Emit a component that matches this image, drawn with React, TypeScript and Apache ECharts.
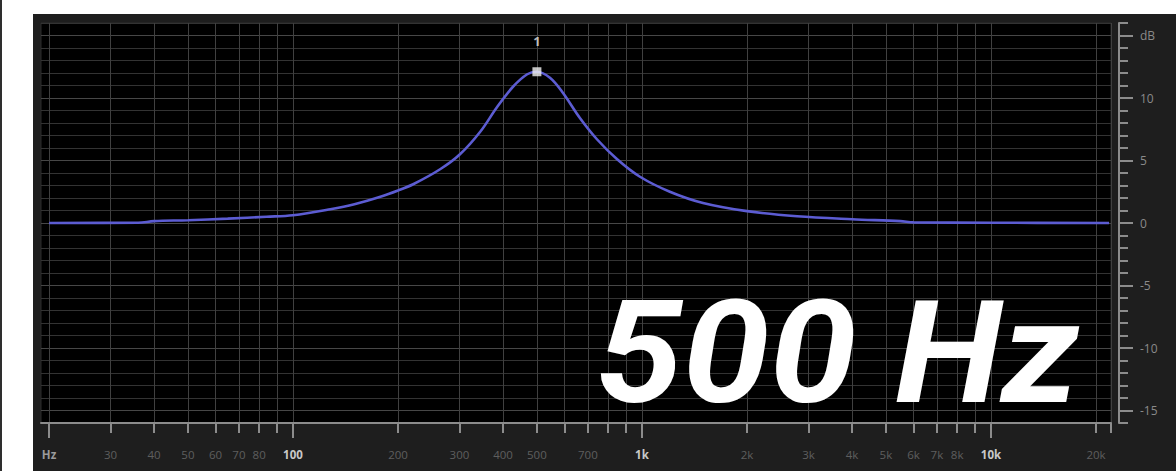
import React, { useEffect, useRef } from "react";
import * as echarts from "echarts";

// Frequency ticks (Hz) on the bottom axis
const tickFreqs = [20, 30, 40, 50, 60, 70, 80, 90, 100, 200, 300, 400, 500, 600, 700, 800, 900, 1000, 2000, 3000, 4000, 5000, 6000, 7000, 8000, 9000, 10000, 20000];
const majorFreqs = [20, 100, 1000, 10000];
const dimLabelFreqs = [30, 40, 50, 60, 70, 80, 200, 300, 400, 500, 700, 2000, 3000, 4000, 5000, 6000, 7000, 8000, 20000];
// dB labels on the right axis
const dbLabelValues = [-15, -10, -5, 0, 5, 10, 15];

// EQ response curve
const curveFreqs = [20, 36, 40, 50, 65, 84, 100, 128, 150, 178, 200, 221, 264, 301, 344, 385, 427, 469, 500, 546, 594, 664, 743, 849, 987, 1202, 1496, 2000, 2782, 4000, 5500, 6000, 10000, 21800];
const curveGains = [0, 0.02, 0.15, 0.22, 0.35, 0.5, 0.62, 1.1, 1.5, 2.1, 2.6, 3.1, 4.3, 5.5, 7.3, 9.3, 10.9, 11.9, 12.1, 11.6, 10.4, 8.4, 6.7, 5.1, 3.7, 2.5, 1.6, 0.95, 0.54, 0.3, 0.15, 0.05, 0.02, 0];

// Band handle
const peakFreqs = [500];
const peakGains = [12.1];
const peakLabels = ["1"];

const titleText = "500 Hz";

const lg = (f: number) => Math.log10(f);
const fmtFreq = (v: number) => {
  const f = Math.round(Math.pow(10, v));
  if (f === 20) return "Hz";
  return f >= 1000 ? f / 1000 + "k" : String(f);
};

export default function App() {
  const ref = useRef<HTMLDivElement>(null);
  useEffect(() => {
    if (!ref.current) return;
    const chart = echarts.init(ref.current, undefined, { renderer: "svg" });
    const X_MIN = 1.278;
    const X_MAX = 4.344;
    const font = "'Open Sans', 'Noto Sans', sans-serif";
    const xCommon = {
      type: "value" as const,
      min: X_MIN,
      max: X_MAX,
      position: "bottom" as const,
      gridIndex: 0,
    };
    const yCommon = {
      type: "value" as const,
      min: -16,
      max: 16,
      position: "right" as const,
      offset: 8,
    };
    chart.setOption({
      animation: false,
      backgroundColor: "#ffffff",
      grid: {
        show: true,
        left: 41,
        top: 23,
        width: 1070,
        height: 400,
        backgroundColor: "#000000",
        borderColor: "#2c2c2c",
        borderWidth: 1,
        outerBoundsMode: "none",
        containLabel: false,
      },
      xAxis: [
        {
          ...xCommon,
          axisLine: { show: true, onZero: false, lineStyle: { color: "#8c8c8c", width: 2 } },
          axisTick: { show: true, length: 10, customValues: [...tickFreqs.map(lg), X_MAX], lineStyle: { color: "#8c8c8c", width: 2 } },
          axisLabel: {
            show: true,
            customValues: dimLabelFreqs.map(lg),
            formatter: (v: number) => fmtFreq(v),
            color: "#5e5e5e",
            fontSize: 11.5,
            fontFamily: font,
            margin: 25,
          },
          splitLine: { show: true, lineStyle: { color: "#404040", width: 1 } },
        },
        {
          ...xCommon,
          axisLine: { show: false, onZero: false },
          axisTick: { show: true, length: 15, customValues: majorFreqs.map(lg), lineStyle: { color: "#8c8c8c", width: 2 } },
          axisLabel: {
            show: true,
            customValues: majorFreqs.map(lg),
            formatter: (v: number) => fmtFreq(v),
            color: (v: any) => (Math.round(Math.pow(10, Number(v))) === 20 ? "#9a9a9a" : "#c8c8c8"),
            fontSize: 11.5,
            fontWeight: "bold",
            fontFamily: font,
            margin: 25,
          },
          splitLine: { show: false },
        },
      ],
      yAxis: [
        {
          ...yCommon,
          interval: 1,
          axisLine: { show: true, onZero: false, lineStyle: { color: "#8c8c8c", width: 2 } },
          axisTick: { show: true, length: 9, lineStyle: { color: "#8c8c8c", width: 2 } },
          axisLabel: { show: false },
          splitLine: { show: true, lineStyle: { color: "#333333", width: 1 } },
        },
        {
          ...yCommon,
          axisLine: { show: false, onZero: false },
          axisTick: { show: true, length: 14, customValues: dbLabelValues, lineStyle: { color: "#8c8c8c", width: 2 } },
          axisLabel: {
            show: true,
            customValues: dbLabelValues,
            formatter: (v: number) => (v === 15 ? "dB" : String(v)),
            color: "#8a8a8a",
            fontSize: 12,
            fontFamily: font,
            margin: 21,
          },
          splitLine: { show: true, lineStyle: { color: "#474747", width: 1 } },
        },
      ],
      graphic: [
        { type: "rect", z: -100, shape: { x: 0, y: 0, width: 2, height: 471 }, style: { fill: "#2e2e2e" } },
        { type: "rect", z: -100, shape: { x: 33, y: 14, width: 1143, height: 457 }, style: { fill: "#1e1e1e" } },
        {
          type: "text",
          z: 100,
          x: 1079,
          y: 353,
          scaleX: 1.1,
          style: {
            text: titleText,
            fill: "#ffffff",
            fontSize: 142,
            fontWeight: "bold",
            fontStyle: "italic",
            fontFamily: "Roboto, 'Liberation Sans', sans-serif",
            align: "right",
            verticalAlign: "middle",
          },
        },
      ],
      series: [
        {
          type: "line",
          xAxisIndex: 0,
          yAxisIndex: 0,
          data: curveFreqs.map((f, i) => [lg(f), curveGains[i]]),
          smooth: 0.35,
          symbol: "none",
          lineStyle: { color: "#5c5cd2", width: 2.6 },
          z: 5,
        },
        {
          type: "scatter",
          xAxisIndex: 0,
          yAxisIndex: 0,
          data: peakFreqs.map((f, i) => [lg(f), peakGains[i]]),
          symbol: "rect",
          symbolSize: 9,
          itemStyle: { color: "#f2f2f2" },
          label: {
            show: true,
            position: "top",
            distance: 20,
            formatter: (p: any) => peakLabels[p.dataIndex],
            color: "#e6e6e6",
            fontSize: 13,
            fontWeight: "bold",
            fontFamily: font,
          },
          z: 10,
        },
      ],
    });
    return () => chart.dispose();
  }, []);
  return <div ref={ref} style={{ position: "absolute", left: 0, top: 0, width: 1176, height: 471 }} />;
}
